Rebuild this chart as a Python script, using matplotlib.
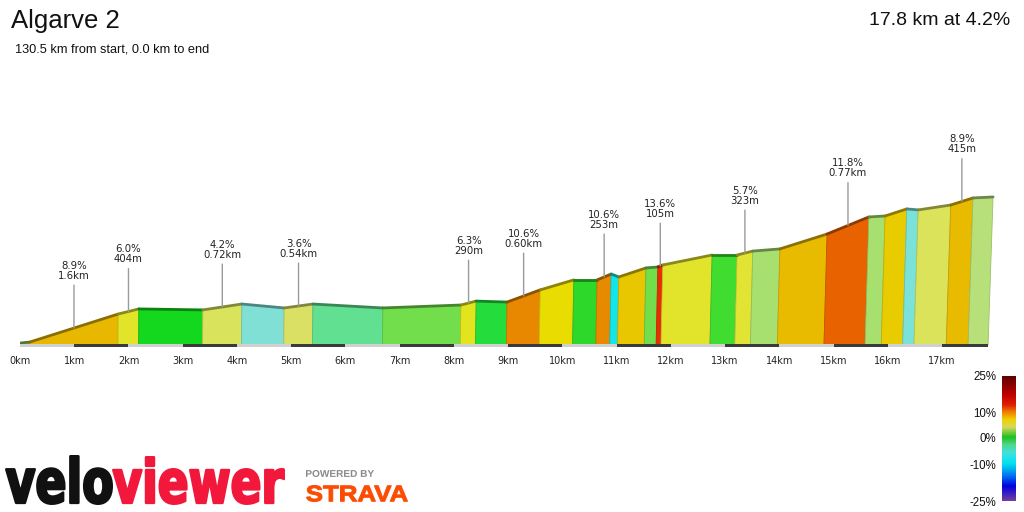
import matplotlib
matplotlib.use('Agg')
import matplotlib.pyplot as plt
import numpy as np
from matplotlib.patches import Polygon, PathPatch
from matplotlib.textpath import TextPath
from matplotlib.font_manager import FontProperties
from matplotlib.transforms import Affine2D
from matplotlib.colors import LinearSegmentedColormap, to_rgb

# profile vertices: distance along the climb (km) and height above the base (m)
dist_km = [0.00, 0.18, 1.81, 2.19, 3.37, 4.09, 4.87, 5.40, 6.69, 8.13,
           8.41, 8.98, 9.59, 10.21, 10.64, 10.90, 11.04, 11.54, 11.76, 11.85,
           12.76, 13.22, 13.51, 14.01, 14.88, 15.65, 15.95, 16.35, 16.56, 17.16,
           17.57, 17.94]
elev_m = [10, 15, 158, 184, 179, 209, 189, 209, 189, 204,
          224, 219, 281, 332, 332, 362, 347, 393, 398, 408,
          459, 459, 479, 490, 566, 653, 658, 694, 689, 714,
          750, 755]

# one colour per segment (gradient colour from the veloviewer scale)
seg_colors = ['#8cc25a', '#e8b800', '#e2e42a', '#14d81e', '#d9e35c', '#80e0d6',
              '#d9e064', '#60e090', '#72de4c', '#e2e41e', '#24dc3c', '#e88800',
              '#e9dc00', '#2ed82a', '#e88a00', '#12e6ea', '#e8c600', '#72de4c',
              '#e82e00', '#e2e42c', '#40dc30', '#e2e434', '#a8e070', '#e8ba00',
              '#e86200', '#a8e070', '#e8cc00', '#7ae2d8', '#dbe35a', '#e8ba00',
              '#b8e07a']

# annotated segments
label_seg = [1, 2, 4, 6, 9, 11, 14, 18, 21, 24, 29]
label_text = ["8.9%\n1.6km", "6.0%\n404m", "4.2%\n0.72km", "3.6%\n0.54km",
              "6.3%\n290m", "10.6%\n0.60km", "10.6%\n253m", "13.6%\n105m",
              "5.7%\n323m", "11.8%\n0.77km", "8.9%\n415m"]

km_ticks = list(range(18))
km_labels = [f"{k}km" for k in km_ticks]
ground_end_km = 17.85

title = "Algarve 2"
subtitle = "130.5 km from start, 0.0 km to end"
summary = "17.8 km at 4.2%"

# colour scale
cb_grades = [-25, -10, 0, 10, 25]
cb_labels = ["-25%", "-10%", "0%", "10%", "25%"]
cb_pos = [0, 37, 64, 89, 126]
cmap_grades = [-25, -19, -15, -10, -6, -3, 0, 4, 7, 10, 13, 17, 25]
cmap_colors = ['#7040a0', '#0000e0', '#0070f0', '#00e0f0', '#40e0e0', '#50d890',
               '#20c020', '#d8d860', '#f0d000', '#f08000', '#e02000', '#c00000',
               '#5a0000']

W, H = 1024, 512
PX_PER_KM = 54.24
M_PER_PX = 5.1
SKEW = 6.8e-6

fig = plt.figure(figsize=(W / 100, H / 100), dpi=100)

# background overlay in pixel coordinates for header and logos
bg = fig.add_axes([0, 0, 1, 1])
bg.set_xlim(0, W)
bg.set_ylim(H, 0)
bg.axis('off')

bg.text(11, 28, title, fontsize=18.5, family='Liberation Sans', color='#111', va='baseline')
bg.text(15, 52, subtitle, fontsize=9.2, family='Liberation Sans', color='#111', va='baseline')
bg.text(1010, 25, summary, fontsize=14, family='Liberation Sans', color='#111',
        ha='right', va='baseline')


def fit_text(ax, s, box, color, family='DejaVu Sans', weight='bold', stroke=0.0):
    # stroke is in pixels; the box is shrunk so the outline stays inside it
    x0, y0, x1, y1 = box
    h = stroke / 2
    x0, y0, x1, y1 = x0 + h, y0 + h, x1 - h, y1 - h
    tp = TextPath((0, 0), s, size=50, prop=FontProperties(family=family, weight=weight))
    ext = tp.get_extents()
    tr = (Affine2D().translate(-ext.x0, -ext.y0)
          .scale((x1 - x0) / ext.width, -(y1 - y0) / ext.height)
          .translate(x0, y1))
    ax.add_patch(PathPatch(tr.transform_path(tp), facecolor=color, edgecolor=color,
                           lw=stroke * 0.72, joinstyle='round'))


fit_text(bg, "velo", (5, 455, 113, 505), '#111111', stroke=2.5)
fit_text(bg, "viewer", (112, 456, 285, 505), '#f2183c', stroke=2.5)
fit_text(bg, "POWERED BY", (306, 470, 374, 477), '#8a8a8a', family='Liberation Sans')
fit_text(bg, "STRAVA", (306, 485, 408, 502), '#fc4c02', family='Liberation Sans', stroke=1.0)

# profile axes: 0 km at x=20px, base at y=345px
left_px, right_px, top_px, bot_px = 20, 1000, 100, 350
ax = fig.add_axes([left_px / W, (H - bot_px) / H, (right_px - left_px) / W, (bot_px - top_px) / H])
ax.set_xlim(0, (right_px - left_px) / PX_PER_KM)
ax.set_ylim(-(bot_px - 345) * M_PER_PX, (345 - top_px) * M_PER_PX)
ax.patch.set_alpha(0)
for sp in ax.spines.values():
    sp.set_visible(False)

d = np.array(dist_km)
e = np.array(elev_m)
d_bot = d - SKEW * d * e

for i, c in enumerate(seg_colors):
    rgb = np.array(to_rgb(c))
    poly = Polygon([(d[i], e[i]), (d[i + 1], e[i + 1]), (d_bot[i + 1], 0), (d_bot[i], 0)],
                   closed=True, facecolor=c, edgecolor=rgb * 0.85, lw=0.6, zorder=2)
    ax.add_patch(poly)
    ax.plot(d[i:i + 2], e[i:i + 2], color=rgb * 0.6, lw=2, solid_capstyle='round', zorder=3)

# alternating km strip along the base
for k in km_ticks:
    w = min(1, ground_end_km - k)
    ax.bar(k, 15, width=w, bottom=-11, align='edge',
           color='#3a3a3a' if k % 2 else '#d0d0d0', lw=0, zorder=4)

for s, txt in zip(label_seg, label_text):
    xm = (d[s] + d[s + 1]) / 2
    ym = (e[s] + e[s + 1]) / 2
    ax.annotate(txt, xy=(xm, ym), xytext=(0, 47), textcoords='offset pixels',
                ha='center', va='bottom', fontsize=7.3, family='DejaVu Sans',
                color='#222', linespacing=1.0,
                arrowprops=dict(arrowstyle='-', color='#9a9a9a', lw=1, shrinkA=1, shrinkB=0),
                zorder=5)

ax.set_yticks([])
ax.set_xticks(km_ticks)
ax.set_xticklabels(km_labels, fontsize=7, family='DejaVu Sans', color='#222')
ax.tick_params(axis='x', length=0, pad=4)

# colour scale bar
cb = fig.add_axes([1001.5 / W, (H - 501.5) / H, 13.5 / W, 126 / H])
cmap = LinearSegmentedColormap.from_list(
    'grade', [((g + 25) / 50, col) for g, col in zip(cmap_grades, cmap_colors)])
pos = np.linspace(0, 126, 300)
grade = np.interp(pos, cb_pos, cb_grades)
cb.imshow(grade[::-1, None], aspect='auto', cmap=cmap, vmin=-25, vmax=25,
          extent=[0, 1, 0, 126])
cb.set_xticks([])
cb.set_yticks(cb_pos)
cb.set_yticklabels(cb_labels, fontsize=8.3, family='Liberation Sans', color='#111')
cb.tick_params(axis='y', length=0, pad=4)
for sp in cb.spines.values():
    sp.set_visible(False)

fig.savefig('out.png', dpi=100)
